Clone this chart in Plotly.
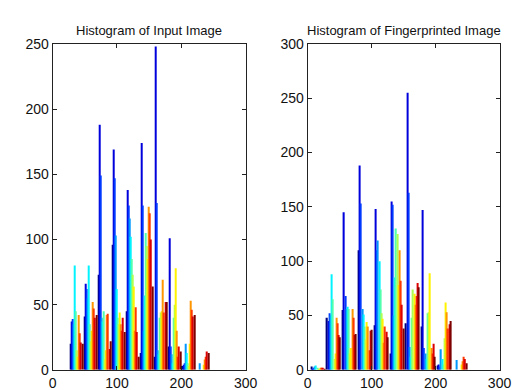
import plotly.graph_objects as go

# bin centres (x) for each panel
centers_in = [37, 58.8, 80.6, 102.3, 124.1, 145.9, 167.7, 189.4, 211.2, 233]
centers_fp = [16, 40.7, 65.3, 90, 114.7, 139.3, 164, 188.7, 213.3, 238]

# counts per group (rows = bins, columns = 12 series from blue to dark red)
input_counts = [
    [20, 37, 39, 35, 80, 45, 15, 10, 42, 28, 21, 20],
    [41, 66, 62, 55, 80, 35, 22, 30, 52, 47, 40, 42],
    [73, 188, 149, 40, 37, 45, 8, 15, 42, 43, 16, 22],
    [96, 169, 147, 103, 62, 40, 35, 44, 35, 30, 40, 29],
    [45, 138, 126, 116, 102, 85, 73, 64, 30, 48, 29, 10],
    [13, 174, 126, 30, 57, 105, 95, 85, 125, 120, 100, 64],
    [10, 248, 128, 15, 12, 40, 44, 45, 69, 44, 52, 52],
    [18, 101, 18, 12, 5, 40, 50, 78, 30, 10, 18, 14],
    [3, 4, 5, 20, 13, 5, 3, 20, 53, 46, 41, 42],
    [0, 0, 0, 5, 0, 0, 0, 4, 8, 10, 14, 13],
]
fp_counts = [
    [3, 1, 2, 3, 4, 2, 1, 1, 2, 2, 2, 1],
    [48, 45, 52, 50, 88, 65, 10, 15, 48, 43, 32, 30],
    [55, 145, 68, 56, 58, 56, 15, 20, 56, 48, 32, 33],
    [110, 188, 153, 56, 51, 40, 28, 44, 40, 18, 36, 37],
    [41, 148, 110, 119, 100, 74, 52, 47, 25, 40, 35, 30],
    [15, 155, 152, 50, 85, 130, 125, 78, 110, 82, 60, 38],
    [43, 255, 163, 21, 12, 48, 74, 70, 60, 68, 80, 76],
    [40, 147, 20, 15, 10, 52, 53, 89, 20, 15, 24, 12],
    [4, 5, 3, 19, 10, 5, 29, 62, 53, 38, 42, 45],
    [0, 0, 0, 9, 0, 0, 0, 5, 8, 12, 10, 6],
]
titles = ["Histogram of Input Image", "Histogram of Fingerprinted Image"]
x_ticks = [0, 100, 200, 300]
y_ticks_in = [0, 50, 100, 150, 200, 250]
y_ticks_fp = [0, 50, 100, 150, 200, 250, 300]

n_series = len(input_counts[0])


def jet(t):
    def c(v):
        return max(0.0, min(1.0, v))
    r = c(1.5 - abs(4 * t - 3))
    g = c(1.5 - abs(4 * t - 2))
    b = c(1.5 - abs(4 * t - 1))
    return f"rgb({int(r*255)},{int(g*255)},{int(b*255)})"


colors = [jet(i / (n_series - 1)) for i in range(n_series)]

fig = go.Figure()
for s in range(n_series):
    fig.add_trace(go.Bar(x=centers_in, y=[row[s] for row in input_counts],
                         marker=dict(color=colors[s], line=dict(width=0)),
                         xaxis="x", yaxis="y", showlegend=False))
for s in range(n_series):
    fig.add_trace(go.Bar(x=centers_fp, y=[row[s] for row in fp_counts],
                         marker=dict(color=colors[s], line=dict(width=0)),
                         xaxis="x2", yaxis="y2", showlegend=False))

font = dict(family="Liberation Sans, Arial, sans-serif", size=14, color="#111")
axis_common = dict(showgrid=False, zeroline=False, showline=True, linecolor="#222",
                   linewidth=1, mirror="allticks", ticks="inside", ticklen=4,
                   tickcolor="#222", tickfont=font)

ydom = [21 / 390, 361 / 390]
title_font = dict(family="Liberation Sans, Arial, sans-serif", size=13, color="#111")
fig.update_layout(
    width=520, height=390,
    margin=dict(l=0, r=0, t=0, b=0),
    paper_bgcolor="white", plot_bgcolor="white",
    barmode="group", bargap=0.1, bargroupgap=0.0,
    xaxis=dict(domain=[42 / 520, 241 / 520], range=[0, 300], tickvals=x_ticks,
               anchor="y", **axis_common),
    yaxis=dict(domain=ydom, range=[0, 250], tickvals=y_ticks_in, anchor="x",
               **axis_common),
    xaxis2=dict(domain=[305 / 520, 503 / 520], range=[0, 300], tickvals=x_ticks,
                anchor="y2", **axis_common),
    yaxis2=dict(domain=ydom, range=[0, 300], tickvals=y_ticks_fp, anchor="x2",
                **axis_common),
    annotations=[
        dict(text=titles[0], x=(42 + 241) / 2 / 520, y=1 - 15 / 390, xref="paper",
             yref="paper", showarrow=False, xanchor="center", yanchor="middle",
             font=title_font),
        dict(text=titles[1], x=(305 + 503) / 2 / 520, y=1 - 15 / 390, xref="paper",
             yref="paper", showarrow=False, xanchor="center", yanchor="middle",
             font=title_font),
    ],
)

fig.write_html("out.html")
